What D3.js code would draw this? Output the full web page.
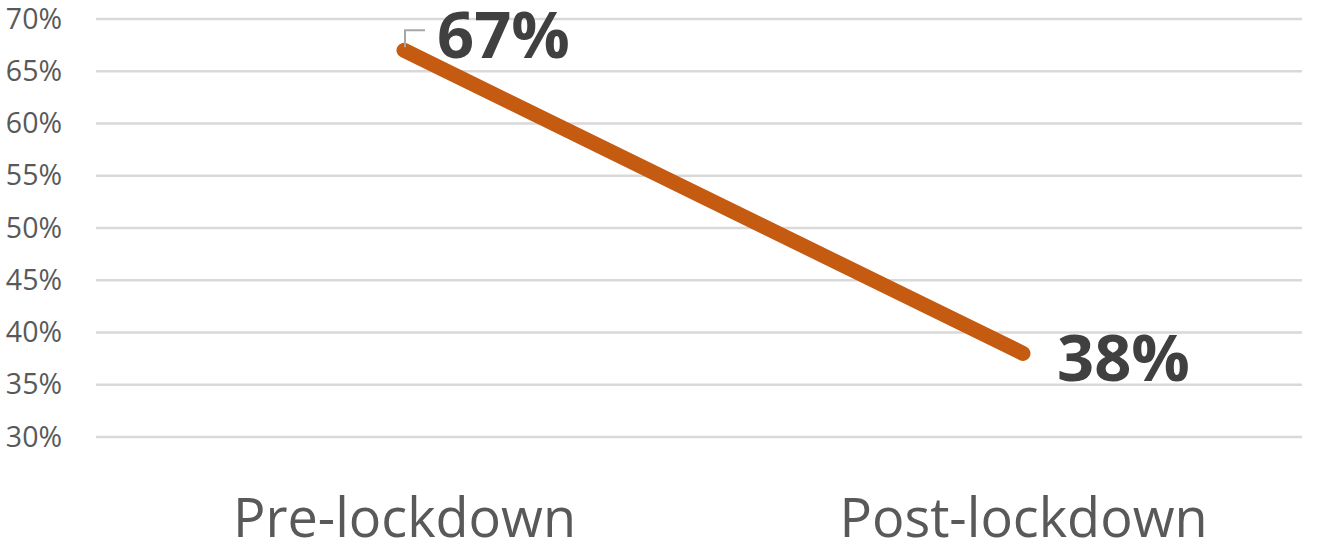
<!DOCTYPE html>
<html><head><meta charset="utf-8">
<script src="https://cdn.jsdelivr.net/npm/d3@7"></script>
<style>body{margin:0;background:#fff}svg{display:block}</style>
</head><body>
<svg id="c" width="1330" height="541"></svg>
<script>
const categories = ["Pre-lockdown", "Post-lockdown"];
const values = [0.67, 0.38];
const dataLabels = ["67%", "38%"];
const tickValues = [0.30, 0.35, 0.40, 0.45, 0.50, 0.55, 0.60, 0.65, 0.70];

const svg = d3.select("#c");
const font = "'Open Sans', 'Noto Sans', sans-serif";
const x = d3.scalePoint().domain(categories).range([404, 1023]);
const y = d3.scaleLinear().domain([0.30, 0.70]).range([437, 19]);

// y axis labels
const yAxis = d3.axisLeft(y).tickValues(tickValues).tickFormat(d3.format(".0%")).tickSize(0).tickPadding(34);
const ga = svg.append("g").attr("transform", "translate(96,0)").call(yAxis);
ga.select(".domain").remove();
ga.selectAll("text").attr("fill", "#595959").style("font-family", font).style("font-size", "28.5px");

// gridlines
svg.append("g").selectAll("line").data(tickValues).join("line")
  .attr("x1", 96).attr("x2", 1302)
  .attr("y1", d => y(d)).attr("y2", d => y(d))
  .attr("stroke", "#d9d9d9").attr("stroke-width", 2.5);

// category axis
const xAxis = d3.axisBottom(x).tickSize(0).tickPadding(0);
const gx = svg.append("g").attr("transform", "translate(0,537)").call(xAxis);
gx.select(".domain").remove();
gx.selectAll("text").attr("fill", "#595959").attr("dy", "0").style("font-family", font).style("font-size", "54px");

// line
const line = d3.line().x((d, i) => x(categories[i])).y(d => y(d));
svg.append("path").datum(values).attr("d", line)
  .attr("fill", "none").attr("stroke", "#c55a11").attr("stroke-width", 15).attr("stroke-linecap", "round");

// leader line for first label
const p0 = [x(categories[0]), y(values[0])];
svg.append("path")
  .attr("d", `M${p0[0] + 1},${p0[1] - 3} L${p0[0] + 1},${p0[1] - 20} L${p0[0] + 21},${p0[1] - 20}`)
  .attr("fill", "none").attr("stroke", "#a6a6a6").attr("stroke-width", 2);

// data labels
const offs = [[33, 8], [34, 28]];
svg.append("g").selectAll("text").data(values).join("text")
  .attr("x", (d, i) => x(categories[i]) + offs[i][0])
  .attr("y", (d, i) => y(d) + offs[i][1])
  .attr("fill", "#404040").style("font-family", font).style("font-weight", "bold").style("font-size", "65px")
  .text((d, i) => dataLabels[i]);
</script>
</body></html>
